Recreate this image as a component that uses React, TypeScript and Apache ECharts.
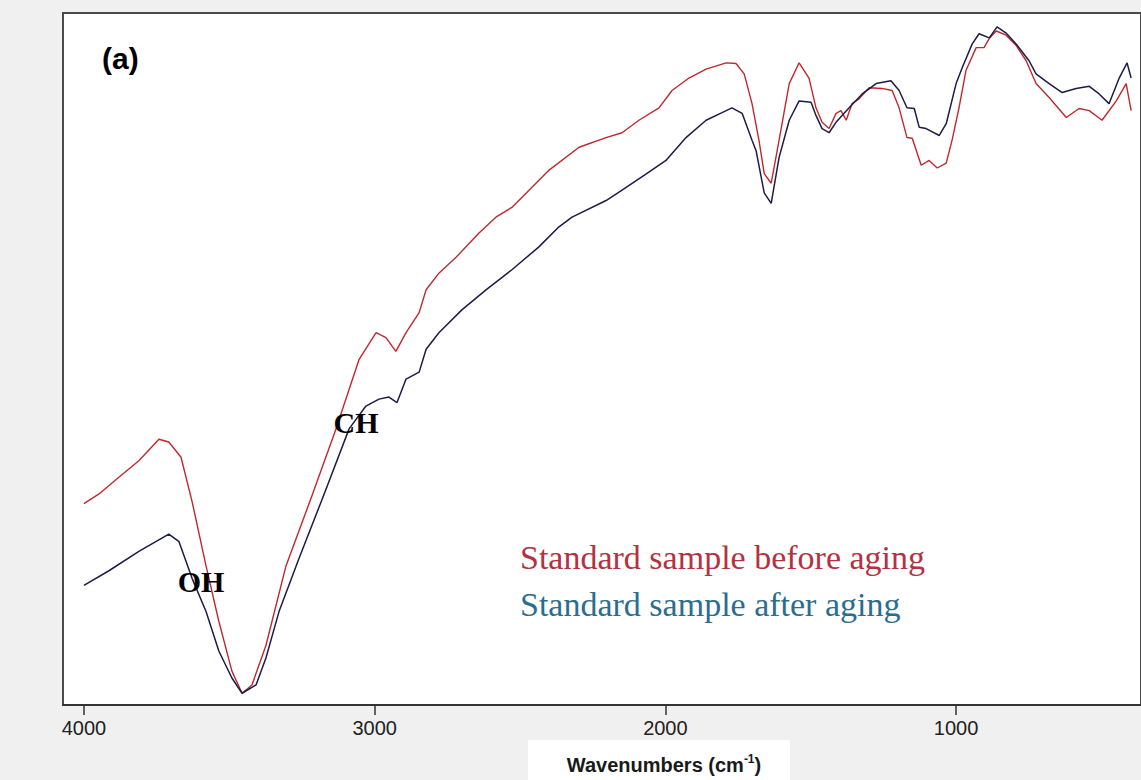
import React, { useEffect, useRef } from "react";
import * as echarts from "echarts";

const xTicks = [4000, 3000, 2000, 1000];

const beforeWavenumber = [
  4000, 3948, 3880, 3811, 3742, 3708, 3666, 3628, 3580, 3536, 3491, 3456, 3422, 3374, 3305, 3216,
  3133, 3088, 3054, 2995, 2961, 2927, 2892, 2847, 2823, 2779, 2720, 2641, 2583, 2528, 2469, 2400,
  2297, 2204, 2149, 2091, 2022, 1977, 1919, 1860, 1791, 1757, 1729, 1702, 1678, 1660, 1636, 1609,
  1574, 1540, 1506, 1482, 1461, 1437, 1413, 1396, 1378, 1358, 1334, 1299, 1255, 1220, 1196, 1169,
  1151, 1120, 1093, 1065, 1034, 1014, 990, 966, 931, 904, 886, 862, 828, 793, 759, 725, 680, 621,
  577, 542, 498, 449, 415, 398,
];
const beforeTransmittance = [
  29.1, 30.5, 32.9, 35.3, 38.4, 38.0, 35.8, 29.4, 20.1, 12.1, 4.9, 1.7, 2.9, 8.6, 20.1, 30.2,
  39.9, 45.6, 49.9, 53.8, 53.1, 51.1, 53.8, 56.7, 60.0, 62.4, 64.7, 68.2, 70.5, 71.9, 74.4, 77.3,
  80.6, 82.0, 82.7, 84.5, 86.3, 88.8, 90.6, 91.9, 92.8, 92.7, 91.2, 86.9, 81.6, 76.8, 75.4, 81.6,
  89.8, 92.8, 90.6, 86.3, 84.2, 83.3, 85.5, 85.9, 84.5, 86.9, 87.6, 89.2, 89.1, 88.8, 86.3, 82.0,
  81.9, 78.0, 78.7, 77.6, 78.3, 81.6, 86.3, 91.7, 95.0, 95.0, 96.3, 97.4, 96.8, 95.3, 93.1, 89.8,
  87.8, 84.9, 86.2, 85.9, 84.5, 87.3, 89.8, 85.9,
];

const afterWavenumber = [
  4000, 3914, 3811, 3708, 3673, 3628, 3580, 3536, 3491, 3456, 3408, 3374, 3329, 3260, 3167, 3088,
  3030, 2985, 2951, 2923, 2892, 2847, 2823, 2779, 2700, 2617, 2528, 2435, 2366, 2321, 2204, 2149,
  2067, 1998, 1929, 1860, 1805, 1771, 1736, 1702, 1688, 1660, 1636, 1609, 1574, 1540, 1499, 1482,
  1461, 1437, 1413, 1368, 1323, 1275, 1224, 1196, 1169, 1144, 1127, 1103, 1058, 1034, 1000, 979,
  945, 921, 886, 859, 828, 793, 749, 725, 680, 635, 587, 542, 508, 474, 439, 412, 398,
];
const afterTransmittance = [
  17.3, 19.4, 22.2, 24.7, 23.6, 18.3, 13.5, 7.8, 3.9, 1.7, 2.9, 6.8, 13.5, 21.2, 31.2, 39.9,
  43.2, 44.2, 44.5, 43.7, 47.1, 48.1, 51.4, 53.8, 57.1, 60.0, 62.9, 66.2, 69.1, 70.5, 72.9, 74.4,
  76.7, 78.7, 82.0, 84.5, 85.6, 86.3, 85.5, 81.6, 80.1, 74.0, 72.5, 79.1, 84.5, 87.3, 87.1, 85.2,
  83.3, 82.7, 84.2, 86.3, 88.3, 89.8, 90.2, 88.8, 86.3, 86.2, 83.5, 83.3, 82.3, 84.0, 89.8, 92.1,
  95.5, 97.0, 96.4, 98.0, 97.1, 95.5, 93.1, 91.2, 89.8, 88.5, 89.1, 89.4, 88.3, 86.9, 90.6, 92.8, 90.6,
];

const seriesNames = ["Standard sample before aging", "Standard sample after aging"];
const peakLabels = ["OH", "CH"];
const panelLabel = "(a)";
const axisTitleMain = "Wavenumbers (cm";
const axisTitleSup = "-1";

const zip = (xs: number[], ys: number[]) => xs.map((x, i) => [x, ys[i]]);

export default function App() {
  const ref = useRef<HTMLDivElement>(null);
  useEffect(() => {
    if (!ref.current) return;
    const chart = echarts.init(ref.current, undefined, { renderer: "svg" });
    chart.setOption({
      animation: false,
      backgroundColor: "#f0f0f0",
      grid: {
        left: 63,
        top: 13,
        right: -4,
        bottom: 75,
        show: true,
        backgroundColor: "#ffffff",
        borderColor: "#4a4a4a",
        borderWidth: 2,
      },
      xAxis: {
        type: "value",
        inverse: true,
        min: 364,
        max: 4072,
        axisLine: { show: true, onZero: false, lineStyle: { color: "#333", width: 2 } },
        axisTick: {
          show: true,
          customValues: xTicks,
          length: 10,
          lineStyle: { color: "#333", width: 1.5 },
        },
        axisLabel: {
          customValues: xTicks,
          formatter: (v: number) => String(v),
          fontSize: 20,
          color: "#222",
          fontFamily: "'Liberation Sans', Arial, sans-serif",
          margin: 13,
        },
        splitLine: { show: false },
      },
      yAxis: { type: "value", min: 0, max: 100, show: false },
      series: [
        {
          name: seriesNames[0],
          type: "line",
          data: zip(beforeWavenumber, beforeTransmittance),
          showSymbol: false,
          symbol: "none",
          lineStyle: { color: "#c0282e", width: 1.4 },
          z: 2,
        },
        {
          name: seriesNames[1],
          type: "line",
          data: zip(afterWavenumber, afterTransmittance),
          showSymbol: false,
          symbol: "none",
          lineStyle: { color: "#1b1c48", width: 1.5 },
          z: 3,
        },
      ],
      graphic: [
        {
          type: "rect",
          z: 50,
          shape: { x: 528, y: 740, width: 262, height: 45 },
          style: { fill: "#ffffff" },
        },
        {
          type: "text",
          z: 60,
          x: 664,
          y: 765,
          style: {
            text: `{m|${axisTitleMain}}{s|${axisTitleSup}}{m|)}`,
            align: "center",
            verticalAlign: "middle",
            rich: {
              m: {
                fontSize: 20,
                fontWeight: "bold",
                fontFamily: "'Liberation Sans', Arial, sans-serif",
                fill: "#1a1a1a",
                lineHeight: 24,
              },
              s: {
                fontSize: 12,
                fontWeight: "bold",
                fontFamily: "'Liberation Sans', Arial, sans-serif",
                fill: "#1a1a1a",
                lineHeight: 14,
                verticalAlign: "top",
              },
            },
          },
        },
        {
          type: "text",
          z: 60,
          x: 102,
          y: 58,
          style: {
            text: panelLabel,
            font: "bold 30px 'Liberation Sans', Arial, sans-serif",
            fill: "#000",
            verticalAlign: "middle",
          },
        },
        {
          type: "text",
          z: 60,
          x: 201,
          y: 581,
          style: {
            text: peakLabels[0],
            font: "bold 30px 'Liberation Serif', 'Times New Roman', serif",
            fill: "#000",
            align: "center",
            verticalAlign: "middle",
          },
        },
        {
          type: "text",
          z: 60,
          x: 356,
          y: 422,
          style: {
            text: peakLabels[1],
            font: "bold 30px 'Liberation Serif', 'Times New Roman', serif",
            fill: "#000",
            align: "center",
            verticalAlign: "middle",
          },
        },
        {
          type: "text",
          z: 60,
          x: 520,
          y: 557,
          style: {
            text: seriesNames[0],
            font: "34px 'Liberation Serif', 'Times New Roman', serif",
            fill: "#b3323f",
            verticalAlign: "middle",
          },
        },
        {
          type: "text",
          z: 60,
          x: 520,
          y: 604,
          style: {
            text: seriesNames[1],
            font: "34px 'Liberation Serif', 'Times New Roman', serif",
            fill: "#2b6d8e",
            verticalAlign: "middle",
          },
        },
      ],
    });
    return () => chart.dispose();
  }, []);
  return (
    <div
      ref={ref}
      style={{ position: "fixed", left: 0, top: 0, width: 1141, height: 780 }}
    />
  );
}
